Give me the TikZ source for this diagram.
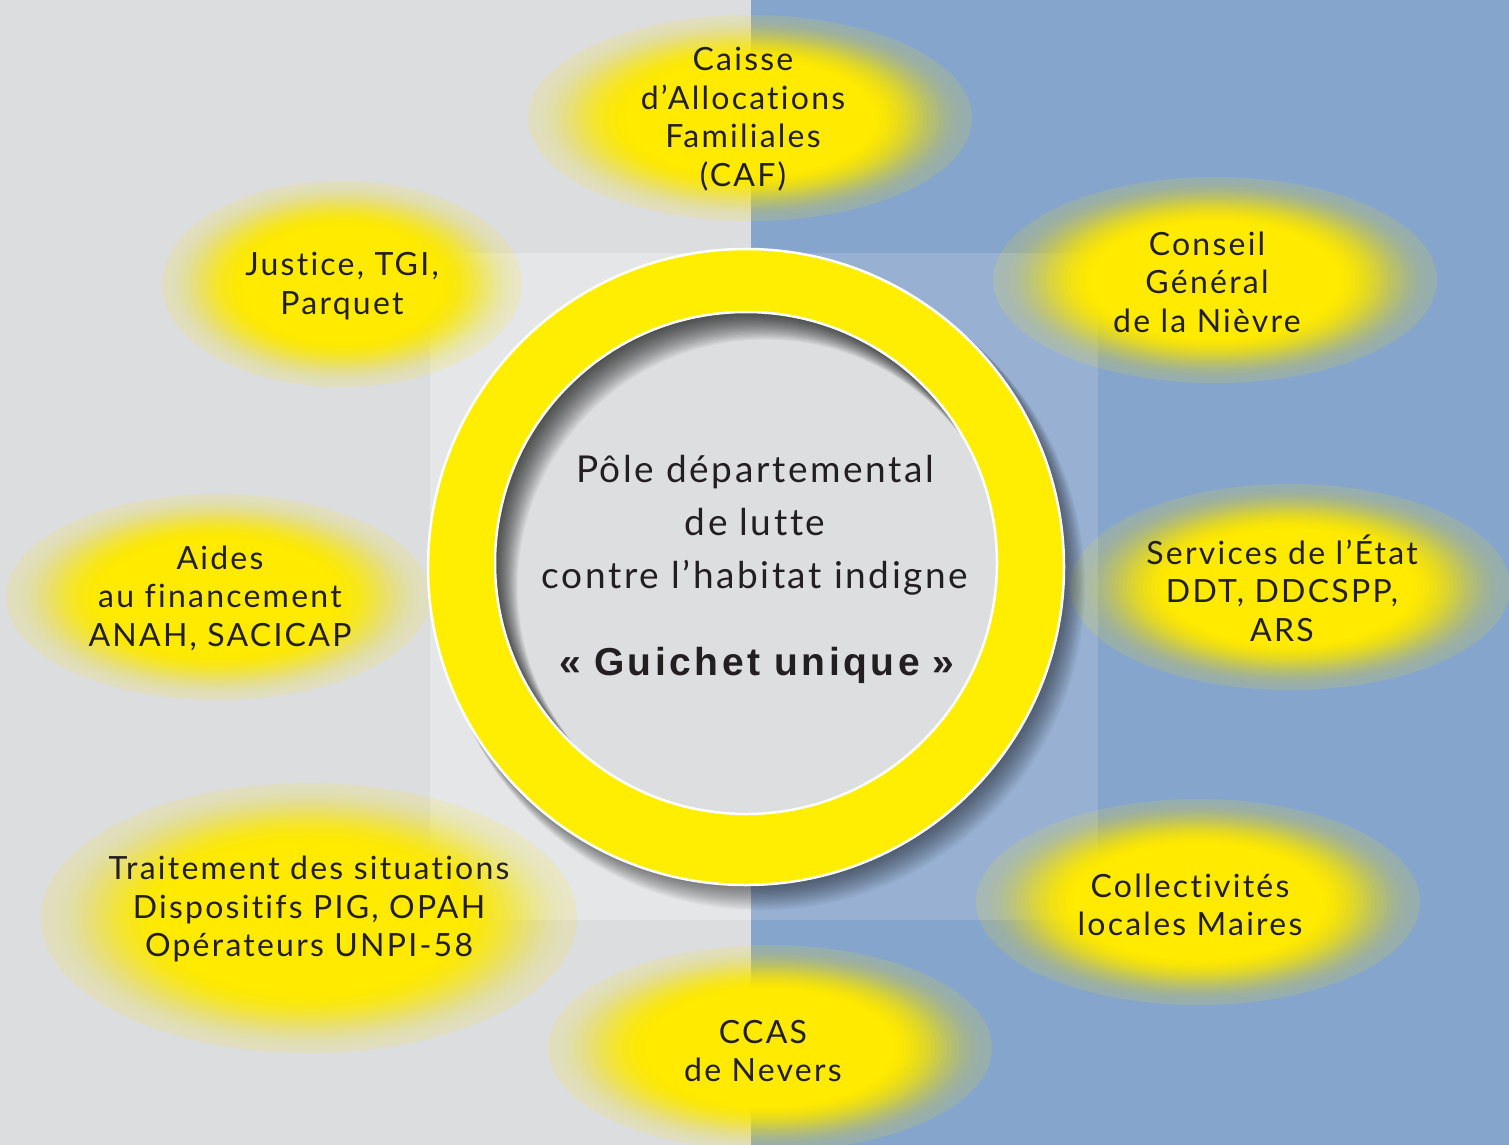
\documentclass[tikz,border=0pt]{standalone}
\usepackage{fontspec}
\setmainfont{Lato}[LetterSpace=7, Ligatures={NoCommon}]
\newfontfamily\guifont{Liberation Sans}[LetterSpace=9]
\definecolor{greyout}{RGB}{220,221,223}
\definecolor{greyin}{RGB}{229,230,231}
\definecolor{blueout}{RGB}{134,165,204}
\definecolor{bluein}{RGB}{152,177,211}
\definecolor{ringyellow}{RGB}{255,238,0}
\definecolor{blobyellow}{RGB}{255,234,0}
\definecolor{disc}{RGB}{221,222,224}
\definecolor{txt}{RGB}{35,31,32}
\newcommand\glowblob[4]{%
  \fill[blobyellow] (#1,#2) ellipse [x radius={0.56*#3}, y radius={0.56*#4}];
  \foreach \j in {0,...,23}{
    \pgfmathsetmacro\tj{1-\j*0.44/24}
    \pgfmathsetmacro\sa{\j/24}
    \pgfmathsetmacro\sb{max(\j-1,0)/24}
    \pgfmathsetmacro\fa{0.14+0.86*(3*\sa*\sa-2*\sa*\sa*\sa)}
    \pgfmathsetmacro\fb{(\j==0) ? 0 : (0.14+0.86*(3*\sb*\sb-2*\sb*\sb*\sb))}
    \pgfmathsetmacro\al{1-(1-\fa)/(1-\fb)}
    \fill[blobyellow, opacity=\al] (#1,#2) ellipse [x radius={\tj*#3}, y radius={\tj*#4}];
  }%
}
\tikzset{
  blobtext/.style={align=center, text=txt, font=\fontsize{32}{38.5}\selectfont, inner sep=0pt},
  centertext/.style={align=center, text=txt, font=\fontsize{37}{53}\selectfont, inner sep=0pt},
}
\begin{document}
\begin{tikzpicture}[x=1pt,y=-1pt]
\useasboundingbox (0,0) rectangle (1509,1145);
\begin{scope}
\clip (0,0) rectangle (1509,1145);
% background
\fill[greyout] (0,0) rectangle (751,1145);
\fill[blueout] (751,0) rectangle (1509,1145);
\fill[greyin] (430,253) rectangle (751,920);
\fill[bluein] (751,253) rectangle (1098,920);
% blobs
\glowblob{750}{118}{222}{103}
\glowblob{342}{284}{180}{103}
\glowblob{1215}{280}{222}{103}
\glowblob{218}{597}{212}{103}
\glowblob{1290}{587}{220}{103}
\glowblob{309}{918}{268}{135}
\glowblob{1198}{902}{222}{103}
\glowblob{770}{1048}{222}{103}
% ring shadow
\foreach \k in {1,...,22} \fill[black, opacity=0.028] ({746+\k*0.7},{567+\k*0.9}) circle ({316+\k*0.35});
% ring
\fill[ringyellow, even odd rule] (746,567) circle (318) (746,563) circle (251);
\fill[disc] (746,563) circle (251);
\begin{scope}
\clip (746,563) circle (251);
\foreach \k in {1,...,24} \fill[black, opacity=0.038, even odd rule] (746,563) circle (262) ({746+\k*0.8},{563+\k*1.0}) circle ({251-\k*0.15});
\end{scope}
\draw[white, line width=2.5] (746,567) circle (318);
\draw[white, line width=2.5] (746,563) circle (251);
\end{scope}
% texts
\node[blobtext] (caf) at (743,119) {Caisse\\d’Allocations\\Familiales\\(CAF)};
\node[blobtext] (justice) at (342,286) {Justice, TGI,\\Parquet};
\node[blobtext] (conseil) at (1207,282) {Conseil\\Général\\de la Nièvre};
\node[blobtext] (aides) at (220,598) {Aides\\au financement\\ANAH, SACICAP};
\node[blobtext] (etat) at (1282,588) {Services de l’État\\DDT, DDCSPP,\\ARS};
\node[blobtext] (traitement) at (309,909) {Traitement des situations\\Dispositifs PIG, OPAH\\Opérateurs UNPI-58};
\node[blobtext] (collect) at (1190,905) {Collectivités\\locales Maires};
\node[blobtext] (ccas) at (763,1051) {CCAS\\de Nevers};
\node[centertext] (pole) at (755,525) {Pôle départemental\\de lutte\\contre l’habitat indigne};
\node[text=txt, inner sep=0pt, font=\guifont\bfseries\fontsize{39}{42}\selectfont] (guichet) at (757,665) {«\,\,Guichet unique\,\,»};
\end{tikzpicture}
\end{document}
